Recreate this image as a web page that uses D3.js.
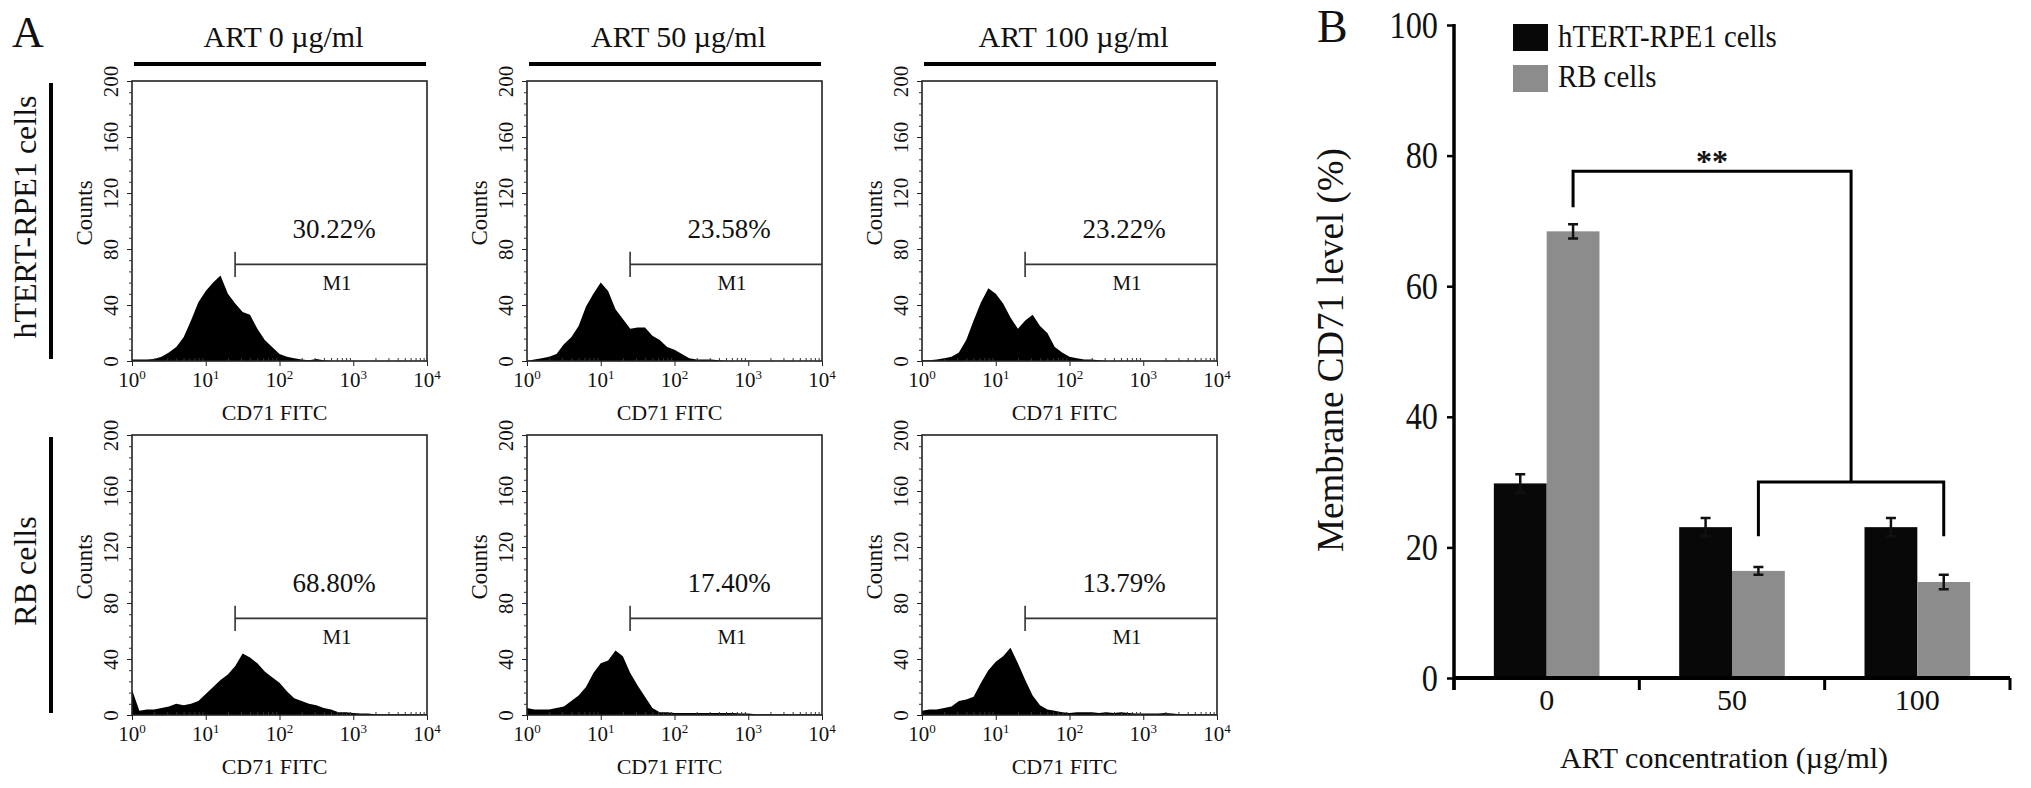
<!DOCTYPE html>
<html lang="en">
<head>
<meta charset="utf-8">
<title>CD71 expression after ART</title>
<script src="https://d3js.org/d3.v7.min.js"></script>
<style>
  body { margin: 0; background: #fff; }
  svg text { font-family: "Liberation Serif", "Times New Roman", serif !important; fill: #111; }
</style>
</head>
<body>
<div id="chart"></div>
<script>
// ---- panel A : flow cytometry histograms ----
const doses = ["ART 0 µg/ml", "ART 50 µg/ml", "ART 100 µg/ml"];
const cellLines = ["hTERT-RPE1 cells", "RB cells"];
const gatePercent = [["30.22%", "23.58%", "23.22%"], ["68.80%", "17.40%", "13.79%"]];
// bin centres as log10(CD71 FITC), one count per bin
const binLog = d3.range(0, 4.01, 0.1);
const histRpe0 = [1,1,1,1.5,3,6,10,17,29,42,50,56,61,48,41,35,33,23,15,10,5,3,2,1,0.5,1.5,0.5,0,0,0,0,0,0,0,0,0,0,0,0,0,0];
const histRpe50 = [0,1,2,3,5,12,17,25,39,48,56,50,37,30,23,24,24,18,15,10,8,5,2,1,1,1,0.5,0,0,0,0,0,0,0,0,0,0,0,0,0,0];
const histRpe100 = [0.5,0.5,1,2,3,6,15,29,42,52,48,41,31,23,29,33,25,20,10,6,3,2,1,1,0.5,0,0,0,0,0,0,0,0,0,0,0,0,0,0,0,0];
const histRb0 = [18,3,4,4,5,6,8,7,8,10,15,20,25,29,35,44,41,37,31,27,23,17,12,10,8,7,5,4,2,2,1.5,1,1,0.5,0.5,0.5,0.5,0.5,0.5,0.5,0.5];
const histRb50 = [5,4,4,4,5,6,10,14,20,30,37,39,46,42,30,21,13,5,2,2,1.5,1.5,1.5,1.5,1.5,1.5,1.5,1.5,1.5,1,1,0.5,0.5,0.5,0.5,0.5,0.5,0.5,0.5,0.5,0.5];
const histRb100 = [3,4,4,5,6,10,11,13,23,32,38,42,48,37,25,14,7,4,3,2,1.5,2,2,2,1.5,2,1.5,2,1.5,1,1,1,1,1.5,1,0.5,0.5,0.5,0.5,0.5,0.5];
const histograms = [[histRpe0, histRpe50, histRpe100], [histRb0, histRb50, histRb100]];
const gateStart = 25, gateLevel = 69;
const countTicks = [0, 40, 80, 120, 160, 200];
const decadeTicks = [1, 10, 100, 1000, 10000];

// ---- panel B : bar chart ----
const concentrations = ["0", "50", "100"];
const series = ["hTERT-RPE1 cells", "RB cells"];
const rpeLevel = [29.8, 23.1, 23.1];
const rpeErr = [1.4, 1.4, 1.4];
const rbLevel = [68.4, 16.4, 14.7];
const rbErr = [1.1, 0.6, 1.1];
const levelTicks = [0, 20, 40, 60, 80, 100];

const W = 2031, H = 788;
const SERIF = '"Liberation Serif", "Times New Roman", serif';
const svg = d3.select("#chart").append("svg").attr("width", W).attr("height", H)
  .attr("font-family", SERIF);

function squeeze(sel, f) {
  sel.each(function () {
    const w = this.getComputedTextLength();
    this.setAttribute("textLength", w * f);
    this.setAttribute("lengthAdjust", "spacingAndGlyphs");
  });
}

const colLeft = [132, 527, 922], rowTop = [81, 435];
const boxW = 295, boxH = 280;

function drawHist(g, left, top, counts, pct) {
  const x = d3.scaleLog().domain([1, 1e4]).range([left, left + boxW]);
  const y = d3.scaleLinear().domain([0, 200]).range([top + boxH, top]);
  const pts = binLog.map((l, i) => ({ v: Math.pow(10, l), c: counts[i] }));

  g.append("path").datum(pts).attr("fill", "#000")
    .attr("d", d3.area().x(d => x(d.v)).y0(y(0)).y1(d => y(d.c)));

  g.append("rect").attr("x", left).attr("y", top).attr("width", boxW).attr("height", boxH)
    .attr("fill", "none").attr("stroke", "#222").attr("stroke-width", 1.6);

  // count axis (minor + major, rotated labels)
  g.append("g").attr("transform", `translate(${left},0)`).style("color", "#333")
    .call(d3.axisLeft(y).tickValues(d3.range(0, 201, 8)).tickSize(3).tickFormat(""))
    .call(a => a.select(".domain").remove());
  const ya = g.append("g").attr("transform", `translate(${left},0)`).style("color", "#222")
    .call(d3.axisLeft(y).tickValues(countTicks).tickSize(5));
  ya.attr("font-family", SERIF);
  ya.select(".domain").remove();
  ya.selectAll("text").attr("transform", "rotate(-90)").attr("x", 0).attr("y", -14)
    .attr("dy", 0).attr("text-anchor", "middle").style("font-size", "21px");

  // log axis
  const minor = [];
  decadeTicks.slice(0, 4).forEach(d => { for (let k = 2; k < 10; k++) minor.push(d * k); });
  g.append("g").attr("transform", `translate(0,${top + boxH})`).style("color", "#333")
    .call(d3.axisBottom(x).tickValues(minor).tickSize(-3).tickFormat(""))
    .call(a => a.select(".domain").remove());
  g.append("g").attr("transform", `translate(0,${top + boxH})`).style("color", "#222")
    .call(d3.axisBottom(x).tickValues(decadeTicks).tickSize(5).tickFormat(""))
    .call(a => a.select(".domain").remove());
  decadeTicks.forEach((d, i) => {
    const t = g.append("text").attr("x", x(d)).attr("y", top + boxH + 26)
      .attr("text-anchor", "middle").style("font-size", "21px").text("10");
    t.append("tspan").attr("dy", -8).style("font-size", "13px").text(i);
  });

  g.append("text").attr("x", left + boxW / 2 - 5).attr("y", top + boxH + 59)
    .attr("text-anchor", "middle").style("font-size", "22px").text("CD71 FITC");
  g.append("text").attr("transform", `translate(${left - 40},${top + boxH / 2 - 8}) rotate(-90)`)
    .attr("text-anchor", "middle").style("font-size", "23px").text("Counts");

  // M1 gate
  g.append("path").attr("fill", "none").attr("stroke", "#333").attr("stroke-width", 1.6)
    .attr("d", `M${x(gateStart)},${y(gateLevel)}H${x(1e4)}M${x(gateStart)},${y(78)}V${y(60)}`);
  g.append("text").attr("x", left + 202).attr("y", y(88)).attr("text-anchor", "middle")
    .style("font-size", "27px").text(pct);
  g.append("text").attr("x", left + 205).attr("y", y(51)).attr("text-anchor", "middle")
    .style("font-size", "21px").text("M1");
}

const gA = svg.append("g");
gA.append("text").attr("x", 12).attr("y", 47).style("font-size", "44px").text("A");

doses.forEach((dose, j) => {
  const left = colLeft[j];
  gA.append("text").attr("x", left + boxW / 2 + 4).attr("y", 47).attr("text-anchor", "middle")
    .style("font-size", "30px").text(dose);
  gA.append("line").attr("x1", left + 2).attr("x2", left + boxW - 1).attr("y1", 64).attr("y2", 64)
    .attr("stroke", "#000").attr("stroke-width", 4);
});

cellLines.forEach((cl, i) => {
  const top = rowTop[i];
  gA.append("text").attr("transform", `translate(36,${top + boxH / 2 - 4}) rotate(-90)`)
    .attr("text-anchor", "middle").style("font-size", "32px").text(cl);
  gA.append("line").attr("x1", 51).attr("x2", 51).attr("y1", top + 2).attr("y2", top + boxH - 2)
    .attr("stroke", "#000").attr("stroke-width", 4);
  doses.forEach((dose, j) => drawHist(gA.append("g"), colLeft[j], top, histograms[i][j], gatePercent[i][j]));
});

// ---- panel B ----
const gB = svg.append("g");
gB.append("text").attr("x", 1317).attr("y", 42).style("font-size", "46px").text("B");

const yB = d3.scaleLinear().domain([0, 100]).range([678, 25]);
const xB = d3.scaleBand().domain(concentrations).range([1454, 2010]);
const bw = xB.bandwidth();
const xS = d3.scaleBand().domain(series).range([bw * 0.215, bw * 0.785]);
const colors = { "hTERT-RPE1 cells": "#080808", "RB cells": "#8c8c8c" };

const bars = [];
concentrations.forEach((c, i) => {
  bars.push({ c, s: series[0], v: rpeLevel[i], e: rpeErr[i] });
  bars.push({ c, s: series[1], v: rbLevel[i], e: rbErr[i] });
});

gB.selectAll("rect.bar").data(bars).join("rect").attr("class", "bar")
  .attr("x", d => xB(d.c) + xS(d.s)).attr("width", xS.bandwidth())
  .attr("y", d => yB(d.v)).attr("height", d => yB(0) - yB(d.v))
  .attr("fill", d => colors[d.s]);

const cx = d => xB(d.c) + xS(d.s) + xS.bandwidth() / 2;
gB.selectAll("path.err").data(bars).join("path").attr("class", "err")
  .attr("fill", "none").attr("stroke", "#111").attr("stroke-width", 2.5)
  .attr("d", d => `M${cx(d)},${yB(d.v - d.e)}V${yB(d.v + d.e)}` +
    `M${cx(d) - 5},${yB(d.v + d.e)}h10M${cx(d) - 5},${yB(d.v - d.e)}h10`);

// axes
const yAx = gB.append("g").attr("transform", "translate(1454,0)").style("color", "#000")
  .call(d3.axisLeft(yB).tickValues(levelTicks).tickSize(7).tickPadding(9));
yAx.attr("font-family", SERIF);
yAx.select(".domain").remove();
yAx.selectAll("line").attr("stroke-width", 2.5);
yAx.selectAll("text").style("font-size", "38px").call(squeeze, 0.85);
gB.append("line").attr("x1", 1454).attr("x2", 1454).attr("y1", yB(100) - 1).attr("y2", 690)
  .attr("stroke", "#000").attr("stroke-width", 3.5);

gB.append("line").attr("x1", 1454).attr("x2", 2010).attr("y1", yB(0)).attr("y2", yB(0))
  .attr("stroke", "#000").attr("stroke-width", 4);
const edges = concentrations.map(c => xB(c)).concat([xB.range()[1]]);
gB.selectAll("line.edge").data(edges).join("line").attr("class", "edge")
  .attr("x1", d => d).attr("x2", d => d).attr("y1", yB(0)).attr("y2", 690)
  .attr("stroke", "#000").attr("stroke-width", 3);
const xAx = gB.append("g").attr("transform", `translate(0,${yB(0)})`)
  .call(d3.axisBottom(xB).tickSize(0).tickPadding(11));
xAx.attr("font-family", SERIF);
xAx.select(".domain").remove();
xAx.selectAll("text").style("font-size", "30px");

gB.append("text").attr("transform", "translate(1343,350) rotate(-90)").attr("text-anchor", "middle")
  .style("font-size", "37px").text("Membrane CD71 level (%)");
gB.append("text").attr("x", 1724).attr("y", 768).attr("text-anchor", "middle")
  .style("font-size", "30px").text("ART concentration (µg/ml)");

// significance brackets
const gx = c => xB(c) + xS("RB cells") + xS.bandwidth() / 2;
const b2l = gx("50"), b2r = gx("100"), b1l = gx("0"), b1r = (b2l + b2r) / 2;
gB.append("path").attr("fill", "none").attr("stroke", "#000").attr("stroke-width", 3)
  .attr("d", `M${b1l},${yB(72.1)}V${yB(77.6)}H${b1r}V${yB(30)}` +
    `M${b2l},${yB(21.7)}V${yB(30)}H${b2r}V${yB(21.7)}`);
gB.append("text").attr("x", (b1l + b1r) / 2).attr("y", yB(77.6) + 1).attr("text-anchor", "middle")
  .style("font-size", "32px").style("font-weight", "bold").text("**");

// legend
series.forEach((s, i) => {
  gB.append("rect").attr("x", 1513).attr("y", 24 + i * 41).attr("width", 35).attr("height", 27)
    .attr("fill", colors[s]);
  gB.append("text").attr("x", 1558).attr("y", 47 + i * 40).style("font-size", "32px")
    .text(s).call(squeeze, 0.9);
});
</script>
</body>
</html>
